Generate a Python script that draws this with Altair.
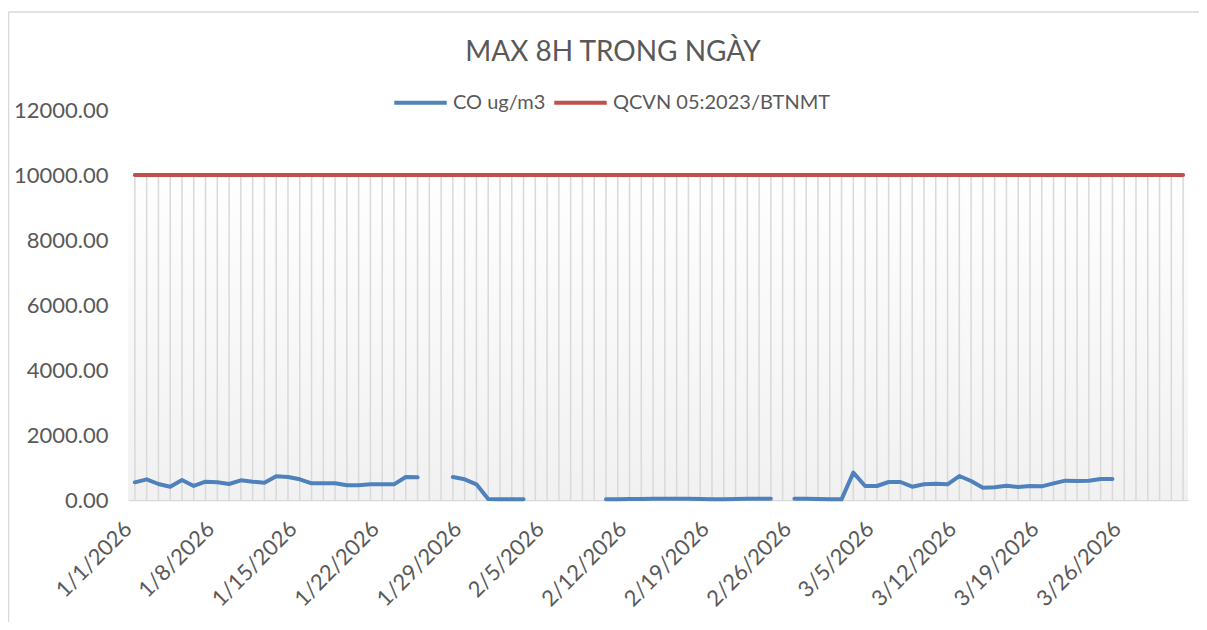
import altair as alt
import pandas as pd

# ---- data ----
dates = [d.strftime("%Y-%m-%d") for d in pd.date_range("2026-01-01", "2026-03-31", freq="D")]

co_values = [
    544, 636, 492, 410, 615, 431, 564, 544, 492, 605,   # Jan 1-10
    564, 533, 728, 708, 636, 513, 513, 513, 451, 451,   # Jan 11-20
    482, 482, 482, 708, 697, None, None, 708, 636, 482, # Jan 21-30
    30, 25, 25, 25, None, None, None, None, None, None, # Jan 31 - Feb 9
    25, 25, 30, 30, 35, 35, 35, 35, 30, 25,             # Feb 10-19
    25, 30, 35, 35, 35, None, 40, 35, 30, 25,           # Feb 20 - Mar 1
    20, 841, 431, 431, 554, 554, 410, 482, 503, 482,    # Mar 2-11
    738, 585, 379, 390, 441, 400, 431, 420, 513, 595,   # Mar 12-21
    585, 595, 646, 646, None, None, None, None, None, None,  # Mar 22-31
]
qcvn_values = [10000] * len(dates)

series_names = ["CO ug/m3", "QCVN 05:2023/BTNMT"]
series_colors = ["#4f81bd", "#c0504d"]
tick_dates = dates[::7]
y_ticks = [0, 2000, 4000, 6000, 8000, 10000, 12000]

# ---- tables ----
rows = []
seg = 0
prev_none = True
for d, v in zip(dates, co_values):
    if v is None:
        prev_none = True
        continue
    if prev_none:
        seg += 1
        prev_none = False
    rows.append({"date": d, "series": series_names[0], "value": v, "seg": f"co{seg}"})
for d, v in zip(dates, qcvn_values):
    rows.append({"date": d, "series": series_names[1], "value": v, "seg": "qcvn"})
lines_df = pd.DataFrame(rows)

grid_df = pd.DataFrame({"date": dates, "low": [0] * len(dates), "high": qcvn_values})

FONT = "Lato"
TXT = "#595959"
FRAME = "#d9d9d9"

x_start = alt.DateTime(year=2025, month=12, date=31, hours=10, utc=True)
x_end = alt.DateTime(year=2026, month=3, date=31, hours=10, utc=True)
x_scale = alt.Scale(type="utc", domain=[x_start, x_end])
y_scale = alt.Scale(domain=[0, 12000])

tick_vals = [alt.DateTime(year=int(t[:4]), month=int(t[5:7]), date=int(t[8:]), utc=True) for t in tick_dates]

x_axis = alt.Axis(
    values=tick_vals, format="%-m/%-d/%Y", title=None,
    labelAngle=-45, labelAlign="right", labelBaseline="middle",
    labelFont=FONT, labelFontSize=22, labelColor=TXT, labelPadding=25, labelOffset=-7,
    ticks=False, grid=False, domain=True, domainColor="#d9d9d9", domainWidth=1.5,
    labelOverlap=False, labelFlush=False,
)
y_axis = alt.Axis(
    values=y_ticks, format=".2f", title=None,
    labelFont=FONT, labelFontSize=22, labelColor=TXT, labelPadding=20,
    ticks=False, grid=False, domain=False,
)

one = pd.DataFrame({"k": [0]})
# outer chart frame (top and left edges; the rest lies outside the window)
frame_top = alt.Chart(one).mark_rule(color=FRAME, strokeWidth=1.5).encode(
    x=alt.value(-119.5), x2=alt.value(1090), y=alt.value(-98)
)
frame_left = alt.Chart(one).mark_rule(color=FRAME, strokeWidth=1.5).encode(
    x=alt.value(-119.5), y=alt.value(-98), y2=alt.value(520)
)

bg = alt.Chart(one).mark_rect(
    fill=alt.Gradient(
        gradient="linear",
        stops=[alt.GradientStop(color="#ffffff", offset=0),
               alt.GradientStop(color="#f1f1f1", offset=1)],
        x1=0, x2=0, y1=0, y2=1,
    )
).encode(
    x=alt.datum(x_start),
    x2=alt.datum(x_end),
    y=alt.datum(10550),
    y2=alt.datum(0),
)

grid = alt.Chart(grid_df).mark_rule(color="#d9d9d9", strokeWidth=1.5).encode(
    x=alt.X("date:T", scale=x_scale, axis=x_axis),
    y=alt.Y("low:Q", scale=y_scale, axis=y_axis),
    y2="high:Q",
)

lines = alt.Chart(lines_df).mark_line(strokeWidth=4, strokeCap="round", strokeJoin="round").encode(
    x=alt.X("date:T", scale=x_scale, axis=x_axis),
    y=alt.Y("value:Q", scale=y_scale, axis=y_axis),
    color=alt.Color(
        "series:N",
        scale=alt.Scale(domain=series_names, range=series_colors),
        legend=alt.Legend(
            title=None, orient="none", legendX=264, legendY=-36, direction="horizontal",
            symbolType="stroke", symbolSize=2750, symbolStrokeWidth=4,
            labelFont=FONT, labelFontSize=20, labelColor=TXT, labelOffset=4,
            labelLimit=400, columnPadding=0, padding=0,
        ),
    ),
    detail="seg:N",
)

chart = alt.layer(frame_top, frame_left, bg, grid, lines).properties(
    width=1060,
    height=390,
    background="#ffffff",
    title=alt.TitleParams(
        "MAX 8H TRONG NGÀY", font=FONT, fontSize=28, fontWeight="normal",
        color=TXT, anchor="middle", dx=-45, offset=-56,
    ),
    autosize=alt.AutoSizeParams(type="none"),
    padding={"left": 120, "top": 102, "right": 11, "bottom": 122},
).configure_view(strokeWidth=0)

chart.save("out.html", embed_options={"renderer": "svg", "actions": False})
